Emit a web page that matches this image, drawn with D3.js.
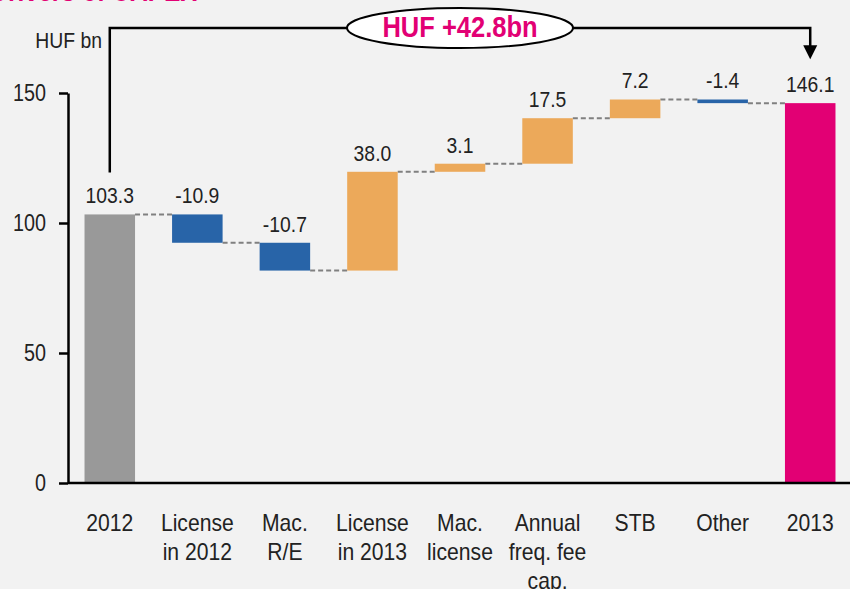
<!DOCTYPE html>
<html>
<head>
<meta charset="utf-8">
<script src="https://cdn.jsdelivr.net/npm/d3@7"></script>
<style>
  body { margin: 0; background: #f2f2f2; }
  svg { display: block; }
</style>
</head>
<body>
<div id="chart"></div>
<script>
const categories = ["2012", "License\nin 2012", "Mac.\nR/E", "License\nin 2013", "Mac.\nlicense", "Annual\nfreq. fee\ncap.", "STB", "Other", "2013"];
const startValue = 103.3;
const deltas = [-10.9, -10.7, 38.0, 3.1, 17.5, 7.2, -1.4];
const endValue = 146.1;
const yTicks = [0, 50, 100, 150];
const totalChange = "HUF +42.8bn";

const colors = { start: "#999999", neg: "#2864a8", pos: "#eca95a", end: "#e20074" };
const font = "'Liberation Sans', Arial, sans-serif";
const fmt = d3.formatLocale({ decimal: ".", thousands: ",", grouping: [3], currency: ["", ""], minus: "-" }).format(".1f");

// the source font is a narrow grotesque, so squeeze text horizontally
const squeeze = (sel, sx) => sel.each(function () {
  const t = d3.select(this);
  const x0 = +t.attr("x") || 0;
  t.attr("x", x0 / sx).attr("transform", `scale(${sx},1)`);
  t.selectAll("tspan").attr("x", function () { return (+d3.select(this).attr("x") || 0) / sx; });
});

const w = 850, h = 589;
const svg = d3.select("#chart").append("svg")
  .attr("width", w)
  .attr("height", h)
  .style("font-family", font);

svg.append("rect").attr("width", w).attr("height", h).attr("fill", "#f2f2f2");

// build waterfall rows
let running = startValue;
const rows = [{ cat: categories[0], y0: 0, y1: startValue, value: startValue, type: "start" }];
deltas.forEach((d, i) => {
  rows.push({ cat: categories[i + 1], y0: running, y1: running + d, value: d, type: d < 0 ? "neg" : "pos" });
  running += d;
});
rows.push({ cat: categories[categories.length - 1], y0: 0, y1: endValue, value: endValue, type: "end" });

const x = d3.scaleBand()
  .domain(categories)
  .range([66, 854])
  .paddingInner(0.423)
  .paddingOuter(0.2115);

const y = d3.scaleLinear().domain([0, 150]).range([483, 93]);
const bw = x.bandwidth();

// title (mostly off the top edge)
svg.append("text")
  .attr("x", 197).attr("y", 1)
  .attr("text-anchor", "end")
  .attr("fill", colors.end)
  .attr("font-weight", "bold")
  .attr("font-size", 29)
  .text("Drivers of CAPEX")
  .call(squeeze, 0.85);

// connectors
svg.append("g").selectAll("line")
  .data(rows.slice(0, -1))
  .join("line")
  .attr("x1", d => x(d.cat) + bw)
  .attr("x2", (d, i) => x(rows[i + 1].cat))
  .attr("y1", d => y(d.y1))
  .attr("y2", d => y(d.y1))
  .attr("stroke", "#808080")
  .attr("stroke-width", 2)
  .attr("stroke-dasharray", "5,3");

// bars
svg.append("g").selectAll("rect")
  .data(rows)
  .join("rect")
  .attr("x", d => x(d.cat))
  .attr("width", bw)
  .attr("y", d => y(Math.max(d.y0, d.y1)))
  .attr("height", d => Math.abs(y(d.y0) - y(d.y1)))
  .attr("fill", d => colors[d.type]);

// value labels
svg.append("g").selectAll("text")
  .data(rows)
  .join("text")
  .attr("x", d => x(d.cat) + bw / 2)
  .attr("y", d => y(Math.max(d.y0, d.y1)) - 11)
  .attr("text-anchor", "middle")
  .attr("font-size", 22.5)
  .attr("fill", "#222")
  .text(d => fmt(d.value))
  .call(squeeze, 0.86);

// y axis
const yAxis = svg.append("g")
  .attr("transform", "translate(68,0)")
  .call(d3.axisLeft(y).tickValues(yTicks).tickSize(9).tickSizeOuter(0).tickPadding(13));
yAxis.select(".domain").attr("stroke", "#000").attr("stroke-width", 2.5);
yAxis.selectAll(".tick line").attr("stroke", "#000").attr("stroke-width", 2.5);
yAxis.selectAll(".tick text").attr("font-size", 23).attr("font-family", font).attr("fill", "#222")
  .call(squeeze, 0.86);

svg.append("text")
  .attr("x", 102).attr("y", 48)
  .attr("text-anchor", "end")
  .attr("font-size", 22)
  .attr("fill", "#222")
  .text("HUF bn")
  .call(squeeze, 0.88);

// x axis
const xAxis = svg.append("g")
  .attr("transform", "translate(0,483)")
  .call(d3.axisBottom(x).tickSize(0).tickSizeOuter(0).tickFormat(""));
xAxis.select(".domain").attr("stroke", "#000").attr("stroke-width", 2.5).attr("d", "M68,0H850");

xAxis.selectAll(".tick").each(function (d) {
  const t = d3.select(this).append("text")
    .attr("y", 48)
    .attr("text-anchor", "middle")
    .attr("font-size", 23)
    .attr("font-family", font)
    .attr("fill", "#222");
  d.split("\n").forEach((line, i) => {
    t.append("tspan").attr("x", 0).attr("dy", i === 0 ? 0 : 29).text(line);
  });
  t.call(squeeze, 0.92);
});

// total change annotation
const xs = x(categories[0]) + bw / 2;
const xe = x(categories[categories.length - 1]) + bw / 2;
const topY = 28;
const tipY = y(endValue) - 44;

svg.append("path")
  .attr("d", `M${xs},${y(startValue) - 42}V${topY}H${xe}V${tipY - 13}`)
  .attr("fill", "none")
  .attr("stroke", "#000")
  .attr("stroke-width", 2.5);

svg.append("path")
  .attr("d", `M${xe - 7},${tipY - 14}L${xe + 7},${tipY - 14}L${xe},${tipY}Z`)
  .attr("fill", "#000");

svg.append("ellipse")
  .attr("cx", 460).attr("cy", topY)
  .attr("rx", 113).attr("ry", 20)
  .attr("fill", "#fff")
  .attr("stroke", "#000")
  .attr("stroke-width", 2);

svg.append("text")
  .attr("x", 460).attr("y", 37)
  .attr("text-anchor", "middle")
  .attr("font-size", 29)
  .attr("font-weight", "bold")
  .attr("fill", colors.end)
  .text(totalChange)
  .call(squeeze, 0.88);
</script>
</body>
</html>
